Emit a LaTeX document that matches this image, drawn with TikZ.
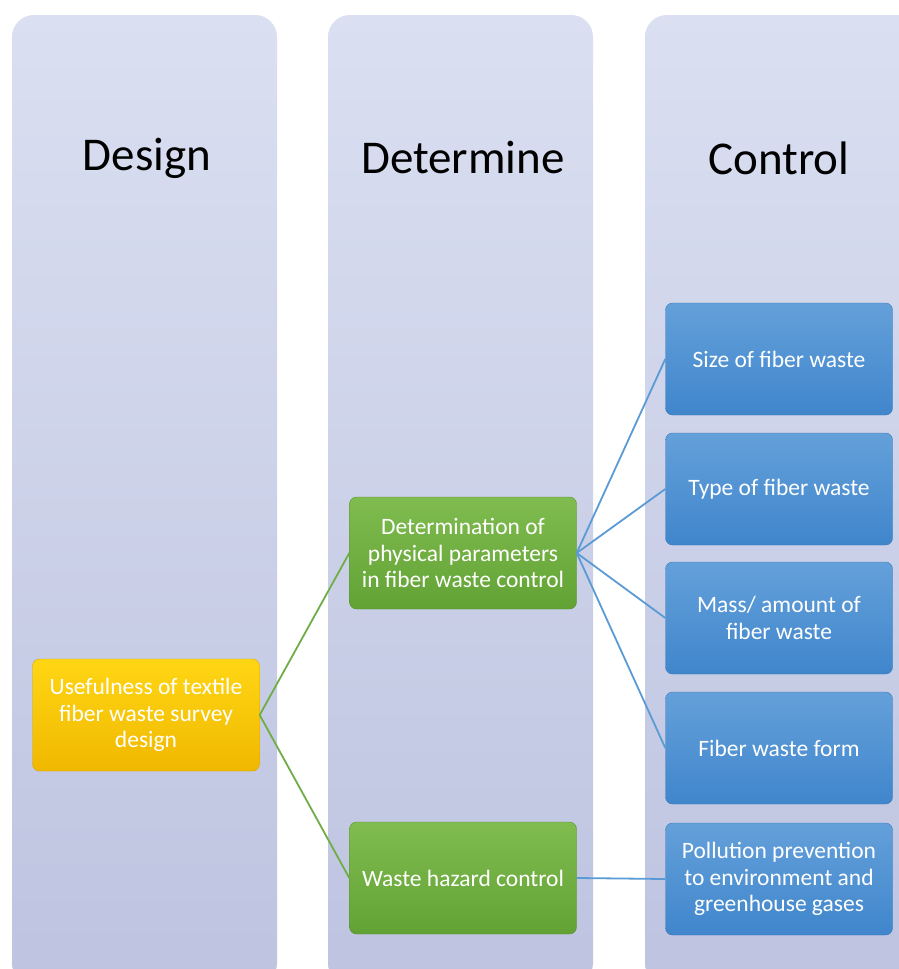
\documentclass[tikz,border=0pt]{standalone}
\usepackage{fontspec}
\setmainfont{Carlito}
\begin{document}
\begin{tikzpicture}[x=1pt,y=-1pt,
  column/.style={rounded corners=22pt, top color=colTop, bottom color=colBot, draw=none},
  heading/.style={font=\fontsize{47}{54}\selectfont, text=black},
  box/.style={rounded corners=7pt, minimum width=227pt, minimum height=112pt, align=center,
    text=white, font=\fontsize{23.5}{26.5}\selectfont, inner sep=1pt},
  ybox/.style={box, top color=yTop, bottom color=yBot, draw=yBot!90!black, line width=0.4pt},
  gbox/.style={box, top color=gTop, bottom color=gBot, draw=gBot!90!black, line width=0.4pt},
  bbox/.style={box, top color=bTop, bottom color=bBot, draw=bBot!90!black, line width=0.4pt},
  gline/.style={draw=gLine, line width=1.8pt},
  bline/.style={draw=bLine, line width=1.8pt}]
\definecolor{colTop}{RGB}{218,223,241}
\definecolor{colBot}{RGB}{190,196,224}
\definecolor{yTop}{RGB}{255,214,20}
\definecolor{yBot}{RGB}{240,184,0}
\definecolor{gTop}{RGB}{128,188,80}
\definecolor{gBot}{RGB}{98,162,52}
\definecolor{bTop}{RGB}{100,160,218}
\definecolor{bBot}{RGB}{64,134,204}
\definecolor{gLine}{RGB}{112,173,71}
\definecolor{bLine}{RGB}{91,155,213}
\useasboundingbox (0,0) rectangle (899,969);
\clip (0,0) rectangle (899,969);
\fill[white] (0,0) rectangle (899,969);
% columns
\path[column] (12,15) rectangle (277,985);
\path[column] (328,15) rectangle (593,985);
\path[column] (645,15) rectangle (930,985);
\node[heading] (hd1) at (147,158) {Design};
\node[heading] (hd2) at (463,158) {Determine};
\node[heading] (hd3) at (779,158) {Control};
% nodes
\node[ybox] (use) at (146,715) {Usefulness of textile\\fiber waste survey\\design};
\node[gbox] (det) at (463,553) {Determination of\\physical parameters\\in fiber waste control};
\node[gbox] (haz) at (463,878) {Waste hazard control};
\node[bbox] (size) at (779,359) {Size of fiber waste};
\node[bbox] (type) at (779,489) {Type of fiber waste};
\node[bbox] (mass) at (779,618) {Mass/ amount of\\fiber waste};
\node[bbox] (form) at (779,748) {Fiber waste form};
\node[bbox] (poll) at (779,879) {Pollution prevention\\to environment and\\greenhouse gases};
% connectors
\draw[gline] (use.east) -- (det.west);
\draw[gline] (use.east) -- (haz.west);
\draw[bline] (det.east) -- (size.west);
\draw[bline] (det.east) -- (type.west);
\draw[bline] (det.east) -- (mass.west);
\draw[bline] (det.east) -- (form.west);
\draw[bline] (haz.east) -- (poll.west);
\end{tikzpicture}
\end{document}
